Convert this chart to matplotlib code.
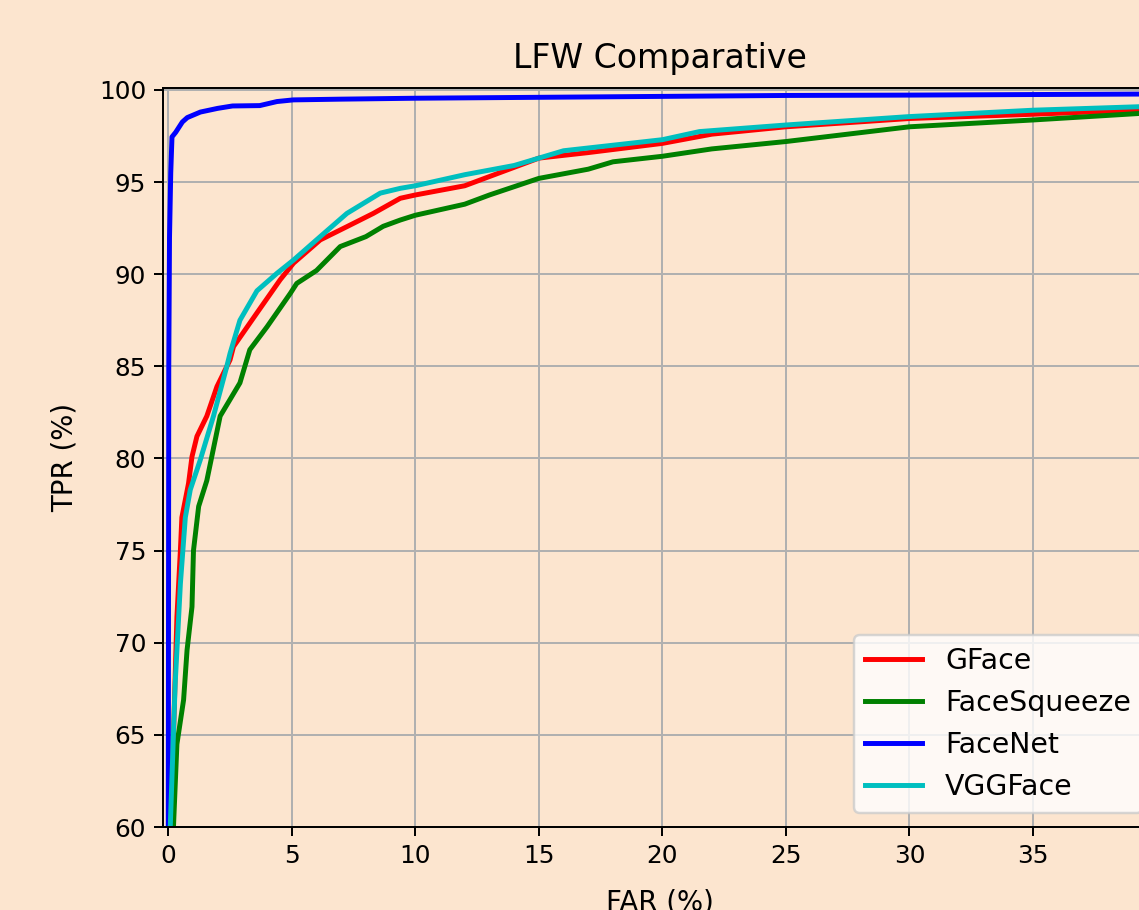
import numpy as np
import matplotlib
matplotlib.use("Agg")
import matplotlib.pyplot as plt

# ROC points (FAR %, TPR %)
gface_far = [0.15, 0.21, 0.35, 0.49, 0.55, 0.82, 0.96, 1.16, 1.56, 1.97, 2.5, 2.64, 3.59, 4.53, 5.07,
             6.15, 7.23, 8.3, 9.39, 10, 12, 13, 15, 17, 20, 22, 25, 30, 35, 40]
gface_tpr = [60, 65, 71.4, 75, 76.8, 78.65, 80.1, 81.2, 82.3, 83.9, 85.35, 86.07, 87.9, 89.7, 90.6,
             91.86, 92.58, 93.3, 94.12, 94.3, 94.8, 95.3, 96.3, 96.6, 97.1, 97.6, 98.0, 98.45, 98.68, 98.95]

squeeze_far = [0.21, 0.35, 0.62, 0.76, 0.96, 1.02, 1.23, 1.56, 2.1, 2.9, 3.3, 4.0, 4.94, 5.2, 6.0,
               6.96, 8.0, 8.7, 9.39, 10, 12, 13, 15, 17, 18, 20, 22, 25, 30, 35, 40]
squeeze_tpr = [60, 64.5, 66.9, 69.6, 71.95, 75, 77.4, 78.8, 82.3, 84.1, 85.9, 87.15, 88.96, 89.5, 90.2,
               91.5, 92.04, 92.6, 92.94, 93.2, 93.8, 94.3, 95.2, 95.7, 96.1, 96.4, 96.8, 97.2, 98.0, 98.37, 98.78]

facenet_far = [0, 0.02, 0.05, 0.1, 0.15, 0.3, 0.57, 0.77, 1.3, 2.0, 2.6, 3.7, 4.4, 5.06,
               7, 10, 15, 20, 25, 30, 35, 40]
facenet_tpr = [60, 85, 92, 95.5, 97.45, 97.7, 98.26, 98.5, 98.8, 99.0, 99.13, 99.15, 99.37, 99.46,
               99.5, 99.55, 99.6, 99.65, 99.7, 99.72, 99.75, 99.78]

vgg_far = [0.08, 0.28, 0.49, 0.69, 0.89, 1.29, 1.83, 2.37, 2.5, 2.9, 3.59, 4.4, 5.07, 6.15, 7.23,
           8.58, 9.39, 10, 12, 14, 15, 16, 18, 20, 21.5, 25.03, 29.95, 35, 40]
vgg_tpr = [60, 67.8, 73.2, 76.8, 78.3, 79.9, 82.3, 85, 85.7, 87.5, 89.1, 90.05, 90.77, 92.04, 93.3,
           94.4, 94.66, 94.8, 95.4, 95.9, 96.3, 96.7, 97.0, 97.3, 97.74, 98.1, 98.55, 98.9, 99.12]

bg = '#fce5cf'

fig = plt.figure(figsize=(1139 / 178, 910 / 178), dpi=178, facecolor=bg)
ax = fig.add_axes([0.1434, 0.0912, 0.872, 0.8126])
ax.set_facecolor(bg)

ax.plot(gface_far, gface_tpr, color='r', lw=2, label='GFace')
ax.plot(squeeze_far, squeeze_tpr, color='g', lw=2, label='FaceSqueeze')
ax.plot(facenet_far, facenet_tpr, color='b', lw=2, label='FaceNet')
ax.plot(vgg_far, vgg_tpr, color='c', lw=2, label='VGGFace')

ax.set_xlim(-0.2, 40)
ax.set_ylim(60, 100.13)
ax.set_xticks(np.arange(0, 40, 5))
ax.set_yticks(np.arange(60, 101, 5))
ax.grid(True)
ax.set_title('LFW Comparative', fontsize=13.4, pad=8)
ax.set_xlabel('FAR (%)', fontsize=11.2, labelpad=8)
ax.set_ylabel('TPR (%)', fontsize=11.2, labelpad=8)
ax.legend(loc='lower right', fontsize=11.5)

fig.savefig('out.png', dpi=178, facecolor=bg)
